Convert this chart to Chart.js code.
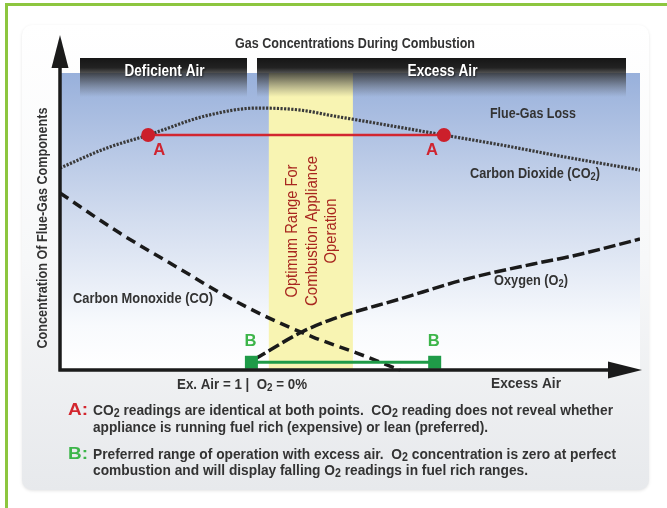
<!DOCTYPE html>
<html>
<head>
<meta charset="utf-8">
<script src="https://cdn.jsdelivr.net/npm/chart.js@4.4.1/dist/chart.umd.min.js"></script>
<style>
  html, body { margin: 0; padding: 0; background: #fff; }
  canvas { display: block; }
</style>
</head>
<body>
<canvas id="chart" width="667" height="508"></canvas>
<script>
// x = excess air (0..100, arbitrary), y = concentration (0..100, arbitrary)
const co2X = [0, 8, 15.2, 25, 34, 41.5, 47, 55.7, 66.2, 76, 86, 100];
const co2Y = [68, 74.7, 79.1, 85.5, 88.2, 87.5, 85.6, 82.7, 79.1, 75.8, 72.1, 67.3];

const coX = [0, 10.3, 20.7, 27.6, 35.7, 43.6, 51.2, 58.6];
const coY = [59.6, 46.1, 34.0, 26.0, 17.8, 11.1, 5.7, 0];

const o2X = [33.6, 41.7, 47.1, 58.6, 70, 81.6, 88.4, 100];
const o2Y = [3.7, 12.8, 17.2, 23.9, 30.6, 35.7, 38.4, 44.1];

const pointAX = [15.2, 66.2];
const pointAY = [79.1, 79.1];
const pointBX = [33.0, 64.6];
const pointBY = [2.6, 2.6];

const optimumRange = [36.0, 50.5];

const title = 'Gas Concentrations During Combustion';
const zoneLabels = ['Deficient Air', 'Excess Air'];
const yTitle = 'Concentration Of Flue-Gas Components';
const optimumLines = ['Optimum Range For', 'Combustion Appliance', 'Operation'];
const curveLabels = ['Flue-Gas Loss', 'Carbon Dioxide (CO_2)', 'Oxygen (O_2)', 'Carbon Monoxide (CO)'];
const xLabels = ['Ex. Air = 1 |  O_2 = 0%', 'Excess Air'];
const notesA = ['CO_2 readings are identical at both points.  CO_2 reading does not reveal whether',
                'appliance is running fuel rich (expensive) or lean (preferred).'];
const notesB = ['Preferred range of operation with excess air.  O_2 concentration is zero at perfect',
                'combustion and will display falling O_2 readings in fuel rich ranges.'];

const FONT = '"Liberation Sans", Arial, sans-serif';
const RED = '#cf2430';
const GREEN = '#1f9b48';
const TEXT = '#333';

function pts(xs, ys) {
  return xs.map((x, i) => ({ x: x, y: ys[i] }));
}

// draws text where "_2" means a subscript 2; optional width squeezes it to fit
function richText(ctx, str, x, y, o) {
  const size = o.size || 14;
  const weight = o.weight || 'bold';
  const parts = str.split(/(_\d)/).filter(s => s).map(s =>
    s[0] === '_' ? { t: s.slice(1), sub: true } : { t: s, sub: false });
  const font = sub => weight + ' ' + (sub ? Math.round(size * 0.75) : size) + 'px ' + FONT;
  let w = 0;
  parts.forEach(p => { ctx.font = font(p.sub); p.w = ctx.measureText(p.t).width; w += p.w; });
  const k = o.width ? o.width / w : 1;
  ctx.save();
  ctx.translate(x, y);
  if (o.rotate) ctx.rotate(o.rotate);
  ctx.scale(k, 1);
  let cx = o.align === 'center' ? -w / 2 : o.align === 'right' ? -w : 0;
  ctx.fillStyle = o.color || TEXT;
  ctx.textBaseline = 'middle';
  if (o.shadow) {
    ctx.shadowColor = 'rgba(0,0,0,0.6)';
    ctx.shadowBlur = 2;
    ctx.shadowOffsetX = 1;
    ctx.shadowOffsetY = 1;
  }
  parts.forEach(p => {
    ctx.font = font(p.sub);
    ctx.fillText(p.t, cx, p.sub ? size * 0.2 : 0);
    cx += p.w;
  });
  ctx.restore();
}

const backdrop = {
  id: 'backdrop',
  beforeDraw(chart) {
    const { ctx, chartArea: a } = chart;
    ctx.save();
    ctx.fillStyle = '#fff';
    ctx.fillRect(0, 0, chart.width, chart.height);

    // green frame
    ctx.fillStyle = '#8dc63f';
    ctx.fillRect(5, 3, chart.width - 5, 3);
    ctx.fillRect(5, 3, 3, chart.height - 3);

    // gray panel
    const pg = ctx.createLinearGradient(0, 25, 0, 490);
    pg.addColorStop(0, '#ffffff');
    pg.addColorStop(0.5, '#f7f8f9');
    pg.addColorStop(1, '#e7e9ec');
    ctx.fillStyle = pg;
    ctx.shadowColor = 'rgba(0,0,0,0.10)';
    ctx.shadowBlur = 3;
    ctx.shadowOffsetY = 1;
    ctx.beginPath();
    ctx.roundRect(22, 25, 627, 465, 10);
    ctx.fill();
    ctx.shadowColor = 'transparent';

    // blue plot area
    const bg = ctx.createLinearGradient(0, a.top, 0, a.bottom);
    bg.addColorStop(0, '#98b0db');
    bg.addColorStop(0.5, '#d3ddef');
    bg.addColorStop(0.85, '#f8fafd');
    bg.addColorStop(1, '#ffffff');
    ctx.fillStyle = bg;
    ctx.fillRect(a.left, a.top, a.right - a.left, a.bottom - a.top);
    ctx.restore();
  },
  beforeDatasetsDraw(chart) {
    const { ctx, chartArea: a, scales: { x } } = chart;
    ctx.save();
    // optimum band
    const x0 = x.getPixelForValue(optimumRange[0]);
    const x1 = x.getPixelForValue(optimumRange[1]);
    ctx.fillStyle = '#f8f4b2';
    ctx.fillRect(x0, a.top, x1 - x0, a.bottom - a.top);

    // zone header bars
    const bars = [[80, 247], [257, 626]];
    bars.forEach((b, i) => {
      const g = ctx.createLinearGradient(0, 58, 0, 97);
      g.addColorStop(0, 'rgba(22,22,22,1)');
      g.addColorStop(0.25, 'rgba(34,34,34,1)');
      g.addColorStop(0.6, 'rgba(60,60,60,0.55)');
      g.addColorStop(1, 'rgba(90,90,90,0)');
      ctx.fillStyle = g;
      ctx.fillRect(b[0], 58, b[1] - b[0], 39);
      richText(ctx, zoneLabels[i], (b[0] + b[1]) / 2 + 1, 72, { size: 16, color: '#fff', align: 'center', width: i ? 70 : 80, shadow: true });
    });

    // band text
    const cxBand = (x0 + x1) / 2;
    const widths = [133, 150, 65];
    optimumLines.forEach((t, i) => {
      richText(ctx, t, cxBand - 18 + i * 19.5, 231, { size: 16, weight: 'normal', color: '#a8261f', align: 'center', width: widths[i], rotate: -Math.PI / 2 });
    });
    ctx.restore();
  },
  afterDatasetsDraw(chart) {
    const { ctx, chartArea: a, scales: { x, y } } = chart;
    ctx.save();
    // axes with arrow heads
    ctx.strokeStyle = '#1b1b1b';
    ctx.fillStyle = '#1b1b1b';
    ctx.lineWidth = 3.5;
    ctx.beginPath();
    ctx.moveTo(a.left - 1.5, a.bottom);
    ctx.lineTo(610, a.bottom);
    ctx.moveTo(a.left, a.bottom + 1.5);
    ctx.lineTo(a.left, 66);
    ctx.stroke();
    ctx.beginPath();
    ctx.moveTo(608, a.bottom - 8.5);
    ctx.lineTo(642, a.bottom);
    ctx.lineTo(608, a.bottom + 8.5);
    ctx.closePath();
    ctx.fill();
    ctx.beginPath();
    ctx.moveTo(a.left - 8.5, 68);
    ctx.lineTo(a.left, 35);
    ctx.lineTo(a.left + 8.5, 68);
    ctx.closePath();
    ctx.fill();

    // titles
    richText(ctx, title, 355, 44, { size: 15, align: 'center', width: 240 });
    richText(ctx, yTitle, 43, 228, { size: 15, align: 'center', width: 241, rotate: -Math.PI / 2 });

    // curve labels
    richText(ctx, curveLabels[0], 533, 114, { size: 15, align: 'center', width: 86 });
    richText(ctx, curveLabels[1], 535, 174, { size: 15, align: 'center', width: 130 });
    richText(ctx, curveLabels[2], 531, 281, { size: 15, align: 'center', width: 74 });
    richText(ctx, curveLabels[3], 143, 299, { size: 15, align: 'center', width: 140 });

    // point markers
    richText(ctx, 'A', x.getPixelForValue(pointAX[0]) + 11, y.getPixelForValue(pointAY[0]) + 16, { size: 16, color: RED, align: 'center', width: 12 });
    richText(ctx, 'A', x.getPixelForValue(pointAX[1]) - 12, y.getPixelForValue(pointAY[1]) + 16, { size: 16, color: RED, align: 'center', width: 12 });
    richText(ctx, 'B', x.getPixelForValue(pointBX[0]) - 1, y.getPixelForValue(pointBY[0]) - 21, { size: 17, color: '#3db54a', align: 'center', width: 12 });
    richText(ctx, 'B', x.getPixelForValue(pointBX[1]) - 1, y.getPixelForValue(pointBY[1]) - 21, { size: 17, color: '#3db54a', align: 'center', width: 12 });

    // x axis texts
    richText(ctx, xLabels[0], 177, 385, { size: 15, width: 130 });
    richText(ctx, xLabels[1], 491, 384, { size: 15, width: 70 });

    // notes
    richText(ctx, 'A:', 68, 411, { size: 16, color: '#d3262e', width: 20 });
    richText(ctx, notesA[0], 93, 411, { size: 15.5, width: 520 });
    richText(ctx, notesA[1], 93, 428, { size: 15.5, width: 395 });
    richText(ctx, 'B:', 68, 455, { size: 16, color: '#3db54a', width: 20 });
    richText(ctx, notesB[0], 93, 455, { size: 15.5, width: 523 });
    richText(ctx, notesB[1], 93, 471, { size: 15.5, width: 435 });
    ctx.restore();
  }
};

new Chart(document.getElementById('chart'), {
  type: 'line',
  data: {
    datasets: [
      {
        data: pts(pointAX, pointAY),
        borderColor: '#d22630',
        borderWidth: 2.5,
        pointRadius: 7,
        pointBackgroundColor: '#cc1f2b',
        pointBorderWidth: 0,
        clip: false
      },
      {
        data: pts(pointBX, pointBY),
        borderColor: GREEN,
        borderWidth: 3,
        pointStyle: 'rect',
        pointRadius: 9.2,
        pointBackgroundColor: GREEN,
        pointBorderWidth: 0,
        clip: false
      },
      {
        data: pts(co2X, co2Y),
        borderColor: '#3a3a3a',
        borderWidth: 3.2,
        borderDash: [2.2, 1.4],
        pointRadius: 0,
        cubicInterpolationMode: 'monotone'
      },
      {
        data: pts(coX, coY),
        borderColor: '#1a1a1a',
        borderWidth: 3.5,
        borderDash: [10, 6],
        pointRadius: 0,
        cubicInterpolationMode: 'monotone',
        clip: false
      },
      {
        data: pts(o2X, o2Y),
        borderColor: '#1a1a1a',
        borderWidth: 3.5,
        borderDash: [12, 4],
        pointRadius: 0,
        cubicInterpolationMode: 'monotone'
      }
    ]
  },
  options: {
    responsive: false,
    animation: false,
    devicePixelRatio: 1,
    layout: { padding: { left: 60, right: 27, top: 73, bottom: 138 } },
    scales: {
      x: { type: 'linear', min: 0, max: 100, display: false },
      y: { type: 'linear', min: 0, max: 100, display: false }
    },
    plugins: {
      legend: { display: false },
      tooltip: { enabled: false }
    }
  },
  plugins: [backdrop]
});
</script>
</body>
</html>
